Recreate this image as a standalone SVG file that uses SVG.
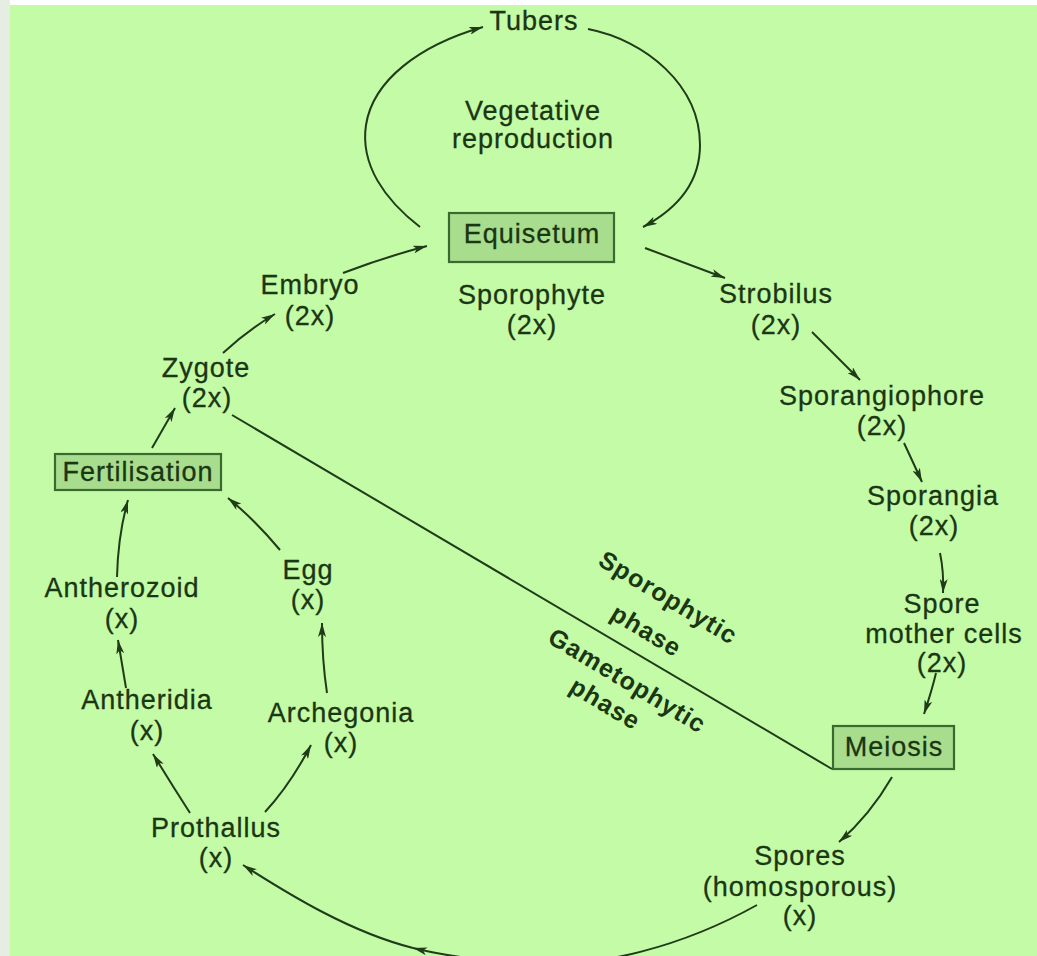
<svg xmlns="http://www.w3.org/2000/svg" width="1037" height="956" viewBox="0 0 1037 956">
<style>
.t{font-family:"Liberation Sans",Arial,Helvetica,sans-serif;font-size:27px;letter-spacing:1px;fill:#1a3612;stroke:#1a3612;stroke-width:0.3;text-anchor:middle}
.b{font-family:"Liberation Sans",Arial,Helvetica,sans-serif;font-size:25px;font-weight:bold;letter-spacing:1px;fill:#1a3612;text-anchor:middle}
.c{fill:none;stroke:#1f3b18;stroke-width:2}
.box{fill:#a8dd8d;stroke:#3a6a2f;stroke-width:2.2}
</style>
<defs>
<marker id="ah" viewBox="0 0 14 8" refX="14" refY="4" markerWidth="14" markerHeight="8" orient="auto" markerUnits="userSpaceOnUse">
<path d="M0,0 L14,4 L0,8 L3.5,4 z" fill="#1f3b18"/>
</marker>
</defs>
<rect x="0" y="0" width="1037" height="956" fill="#ffffff"/>
<rect x="0" y="0" width="10" height="956" fill="#e6ede2"/>
<rect x="10" y="5" width="1027" height="951" fill="#c4fba7"/>

<g id="connectors">
<path class="c" d="M420,227 C385,200 360,165 366,125 C373,80 420,45 483,27" marker-end="url(#ah)"/>
<path class="c" d="M588,29 C645,40 700,85 700,145 C700,185 675,210 643,227" marker-end="url(#ah)"/>
<path class="c" d="M645,248 L725,278" marker-end="url(#ah)"/>
<path class="c" d="M812,332 L860,380" marker-end="url(#ah)"/>
<path class="c" d="M904,443 Q912,460 922,482" marker-end="url(#ah)"/>
<path class="c" d="M940,553 Q944,572 943,593" marker-end="url(#ah)"/>
<path class="c" d="M936,673 Q932,690 924,714" marker-end="url(#ah)"/>
<path class="c" d="M892,777 Q870,815 839,842" marker-end="url(#ah)"/>
<path class="c" d="M757,905 C680,948 600,966 540,964 C490,962 450,957 413,948" marker-end="url(#ah)"/>
<path class="c" d="M413,948 C350,932 290,895 243,865" marker-end="url(#ah)"/>
<path class="c" d="M190,813 Q172,785 153,754" marker-end="url(#ah)"/>
<path class="c" d="M265,812 Q290,785 311,745" marker-end="url(#ah)"/>
<path class="c" d="M126,688 L118,640" marker-end="url(#ah)"/>
<path class="c" d="M327,693 Q322,660 322,623" marker-end="url(#ah)"/>
<path class="c" d="M117,577 Q118,535 128,500" marker-end="url(#ah)"/>
<path class="c" d="M280,550 Q255,520 228,498" marker-end="url(#ah)"/>
<path class="c" d="M152,448 L175,408" marker-end="url(#ah)"/>
<path class="c" d="M223,353 Q248,330 275,314" marker-end="url(#ah)"/>
<path class="c" d="M343,273 Q385,257 427,246" marker-end="url(#ah)"/>
<path class="c" d="M232,415 L832,769"/>
</g>

<g id="tubers"><text class="t" x="534" y="30">Tubers</text></g>
<g id="vegetative"><text class="t" x="533" y="120">Vegetative</text><text class="t" x="533" y="148">reproduction</text></g>
<g id="equisetum"><rect class="box" x="449" y="213" width="165" height="49"/><text class="t" x="532" y="243">Equisetum</text></g>
<g id="sporophyte"><text class="t" x="532" y="304">Sporophyte</text><text class="t" x="532" y="334">(2x)</text></g>
<g id="embryo"><text class="t" x="310" y="294">Embryo</text><text class="t" x="310" y="325">(2x)</text></g>
<g id="strobilus"><text class="t" x="776" y="303">Strobilus</text><text class="t" x="776" y="334">(2x)</text></g>
<g id="sporangiophore"><text class="t" x="882" y="405">Sporangiophore</text><text class="t" x="882" y="435">(2x)</text></g>
<g id="sporangia"><text class="t" x="933" y="505">Sporangia</text><text class="t" x="934" y="535">(2x)</text></g>
<g id="spore-mother-cells"><text class="t" x="942" y="613">Spore</text><text class="t" x="944" y="643">mother cells</text><text class="t" x="942" y="672">(2x)</text></g>
<g id="meiosis"><rect class="box" x="833" y="726" width="121" height="43"/><text class="t" x="894" y="756">Meiosis</text></g>
<g id="spores"><text class="t" x="800" y="865">Spores</text><text class="t" x="800" y="896">(homosporous)</text><text class="t" x="800" y="925">(x)</text></g>
<g id="prothallus"><text class="t" x="216" y="837">Prothallus</text><text class="t" x="216" y="867">(x)</text></g>
<g id="antheridia"><text class="t" x="147" y="709">Antheridia</text><text class="t" x="147" y="740">(x)</text></g>
<g id="archegonia"><text class="t" x="341" y="722">Archegonia</text><text class="t" x="341" y="752">(x)</text></g>
<g id="antherozoid"><text class="t" x="122" y="597">Antherozoid</text><text class="t" x="122" y="628">(x)</text></g>
<g id="egg"><text class="t" x="308" y="579">Egg</text><text class="t" x="308" y="609">(x)</text></g>
<g id="fertilisation"><rect class="box" x="55" y="454" width="166" height="36"/><text class="t" x="138" y="481">Fertilisation</text></g>
<g id="zygote"><text class="t" x="206" y="377">Zygote</text><text class="t" x="207" y="407">(2x)</text></g>
<g id="phases">
<text class="b" transform="translate(668,598) rotate(31)" x="0" y="8">Sporophytic</text>
<text class="b" transform="translate(646,631) rotate(31)" x="0" y="8">phase</text>
<text class="b" transform="translate(627,681) rotate(31)" x="0" y="8">Gametophytic</text>
<text class="b" transform="translate(605,704) rotate(31)" x="0" y="8">phase</text>
</g>
</svg>
